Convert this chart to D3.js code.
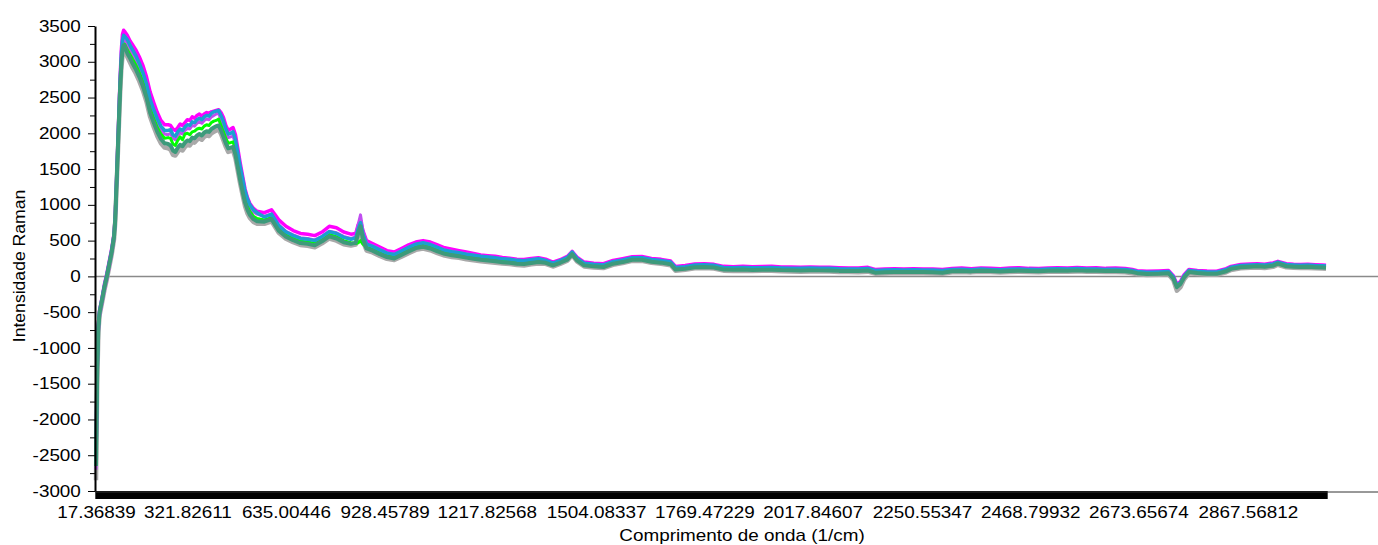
<!DOCTYPE html>
<html>
<head>
<meta charset="utf-8">
<script src="https://cdn.jsdelivr.net/npm/d3@7"></script>
<style>
  body { margin: 0; background: #fff; }
  svg { display: block; }
</style>
</head>
<body>
<div id="chart"></div>
<script>
// spectrum has 1024 detector points; x axis is categorical (point index)
const POINT_COUNT = 1024;

const tickIdx = [0, 76, 158, 240, 325, 416, 506, 596, 687, 777, 867, 958];
const tickLabels = ["17.36839", "321.82611", "635.00446", "928.45789", "1217.82568", "1504.08337",
    "1769.47229", "2017.84607", "2250.55347", "2468.79932", "2673.65674", "2867.56812"];

const yMajor = [-3000, -2500, -2000, -1500, -1000, -500, 0, 500, 1000, 1500, 2000, 2500, 3000, 3500];
const yMinor = [-2750, -2250, -1750, -1250, -750, -250, 250, 750, 1250, 1750, 2250, 2750, 3250];

const sampleIdx = [
    0,1,2,3,5,7,9,11,13,15,16,17,18,19,20,21,22,23,24,26,28,30,33,36,39,42,45,48,51,54,57,60,
    62,64,66,68,70,72,74,76,78,80,82,84,86,88,90,92,94,96,98,100,102,104,106,108,110,112,114,116,118,120,122,124,126,128,131,134,
    140,146,152,158,164,170,176,182,188,194,200,206,212,216,218,220,222,225,230,236,242,248,254,260,266,272,278,284,290,296,302,308,314,320,326,332,338,344,350,356,362,368,
    374,380,386,392,396,400,406,414,422,430,438,446,454,462,470,478,482,490,498,506,514,522,530,538,546,554,562,570,578,586,594,602,610,618,626,634,642,648,656,664,672,680,688,696,704,
    712,720,728,736,744,752,760,768,776,784,792,800,808,816,824,832,840,848,856,862,866,874,884,892,896,899,902,905,909,916,924,932,940,944,952,960,966,972,979,983,990,996,1002,1008,1014,1020,1023
];

const grayVals = [
    -2850,-1500,-760,-540,-370,-190,-40,130,300,520, 760,1200,1640,2090,2540,2880,3080,3170,3160,
    3070,3000,2930,2840,2730,2600,2440,2230,2090,1960,1860,1800,1790,
    1770,1700,1690,1740,1780,1760,1810,1840,1830,1880,1870,1910,1930,1910,1950,1970,1960,2000,2020,2040,2050,
    1990,1900,1810,1740,1750,1760,1650,1470,1290,1130,980,880,815,760,735,
    735,770,610,525,478,440,428,408,462,530,500,450,430,445,560,650,490,362,335,285,
    245,228,275,325,370,390,365,325,292,272,260,240,225,212,202,192,180,172,158,152,168,180,
    175,138,174,220,296,208,138,124,116,162,185,216,218,190,176,155,80,92,112,118,
    110,80,76,80,74,78,78,72,70,66,70,68,68,62,60,58,66,38,42,46,44,48,44,42,36,
    58,62,56,64,60,56,62,66,60,58,64,68,66,70,64,66,60,62,58,
    44,30,20,24,30,-50,-200,-150,-40,44,34,24,22,58,90,112,120,125,118,134,162,128,120,116,118,114,110,108
];

const magentaVals = [
    -2600,-1200,-660,-470,-300,-110,40,210,380,600, 840,1300,1780,2260,2750,3150,3380,3440,3420,
    3370,3300,3250,3170,3070,2950,2790,2580,2430,2290,2180,2120,2120,
    2110,2060,2040,2080,2130,2110,2150,2190,2180,2230,2210,2250,2270,2240,2270,2290,2280,2300,2310,2320,2330,
    2290,2220,2110,2040,2060,2080,1980,1780,1580,1400,1220,1100,1020,950,910,
    890,930,790,700,640,600,590,570,620,700,680,620,590,600,720,780,640,500,460,410,
    360,340,390,440,480,500,480,440,400,380,360,340,320,300,290,280,265,255,240,235,250,260,
    240,200,232,280,350,270,200,185,178,222,248,275,278,250,238,214,140,152,172,176,
    168,140,136,140,134,138,140,132,130,126,130,128,126,122,118,118,126,96,104,106,104,108,104,102,96,
    110,118,108,116,114,108,118,120,112,110,118,122,118,124,116,120,112,116,110,
    96,80,72,76,82,10,-110,-70,25,96,84,74,72,108,140,165,172,176,170,188,210,178,170,166,170,164,160,156
];

const purpleVals = [
    -2700,-1450,-800,-560,-380,-200,-50,120,300,520, 780,1220,1700,2180,2650,3020,3240,3300,3290,
    3250,3190,3120,3030,2920,2790,2630,2420,2280,2150,2050,1990,1980,
    2000,1930,1910,1970,2010,1990,2040,2070,2060,2110,2100,2140,2160,2140,2180,2200,2190,2230,2250,2270,2280,
    2190,2110,2010,1940,1950,1960,1860,1670,1480,1310,1150,1040,970,900,870,
    840,870,720,630,580,540,530,510,560,630,610,560,530,550,720,860,640,460,430,380,
    330,310,360,410,450,470,450,410,370,350,335,315,300,285,275,265,250,242,228,222,238,250,
    220,180,215,262,345,250,180,165,158,200,226,256,258,230,218,194,120,132,152,156,
    150,118,118,120,114,118,118,112,110,106,110,108,108,102,100,98,106,78,84,86,84,88,84,82,78,
    92,96,90,100,94,90,98,100,94,92,100,104,100,106,98,102,94,98,92,
    80,64,55,58,64,-8,-135,-90,2,78,66,56,54,90,124,148,154,158,152,168,194,160,154,150,152,148,144,140
];

const cyanVals = [
    -2620,-1250,-680,-480,-310,-130,20,190,360,580, 820,1280,1750,2220,2700,3080,3300,3370,3350,
    3310,3240,3180,3090,2980,2850,2690,2480,2330,2200,2100,2040,2040,
    2050,1980,1960,2020,2060,2040,2090,2120,2110,2160,2150,2190,2210,2190,2230,2250,2240,2280,2300,2310,2320,
    2250,2170,2060,1990,2000,2020,1910,1720,1530,1360,1190,1080,1000,930,890,
    830,870,710,620,570,530,520,500,555,625,600,545,520,535,660,750,590,450,420,370,
    325,305,355,405,450,470,445,405,365,345,330,310,295,280,270,260,245,238,224,218,234,246,
    222,185,220,265,340,255,185,170,160,205,230,262,262,235,222,200,125,136,158,162,
    155,124,122,124,120,122,124,118,114,112,116,114,112,106,104,104,112,82,88,92,90,92,90,88,82,
    96,100,94,104,98,94,100,104,98,96,104,106,104,110,102,104,98,100,96,
    84,68,58,62,68,-4,-128,-85,8,84,72,62,60,96,128,152,160,164,158,174,200,166,160,154,158,152,150,146
];

const greenVals = [
    -2500,-1350,-720,-510,-340,-160,-10,160,330,550, 800,1240,1690,2150,2610,2970,3170,3250,3240,
    3170,3110,3050,2960,2850,2720,2560,2350,2210,2080,1990,1930,1940,
    1930,1850,1830,1900,1950,1910,1990,2000,1980,2020,2030,2060,2070,2060,2100,2120,2110,2150,2170,2180,2200,
    2110,2020,1930,1860,1870,1880,1770,1590,1400,1240,1090,980,910,840,810,
    790,820,660,580,530,490,480,460,510,585,555,500,470,460,470,500,450,410,380,330,
    290,270,320,370,415,435,410,370,335,315,300,280,262,250,238,228,215,205,192,188,202,215,
    200,165,198,246,322,234,164,150,142,186,212,240,240,214,200,178,104,116,138,140,
    134,104,100,104,98,102,102,96,94,90,96,92,92,86,84,82,92,60,66,72,68,72,68,66,60,
    82,88,80,88,84,80,86,90,84,82,88,92,90,94,88,90,84,86,82,
    68,52,44,48,54,-20,-142,-98,-6,70,58,48,46,82,114,138,145,150,144,160,186,152,145,140,143,138,135,132
];

const tealVals = [
    -2650,-1300,-700,-500,-330,-150,0,170,340,560, 800,1250,1700,2150,2600,2950,3150,3230,3220,
    3120,3060,2990,2900,2790,2660,2500,2290,2150,2020,1920,1860,1850,
    1830,1760,1740,1800,1840,1820,1870,1900,1890,1940,1930,1970,1990,1970,2010,2030,2020,2060,2080,2100,2110,
    2040,1950,1860,1790,1800,1810,1700,1520,1340,1180,1030,930,860,800,770,
    765,800,640,555,505,466,455,434,490,560,530,478,455,470,600,700,520,390,360,310,
    270,250,300,350,395,415,390,350,315,296,282,262,246,232,222,212,199,192,178,172,188,200,
    190,154,190,235,310,224,154,140,131,177,200,232,232,205,192,170,95,107,128,132,
    125,95,92,95,90,93,94,88,85,82,86,84,83,77,75,74,82,52,58,62,60,63,60,58,52,
    72,76,70,78,74,70,76,80,74,72,78,82,80,84,78,80,74,76,72,
    60,45,35,38,45,-30,-150,-105,-15,60,48,38,36,72,105,128,135,140,134,150,178,142,135,130,133,128,125,122
];

// drawn in this order, teal ends up on top
const series = [
    { name: "gray", color: "#a9a9a9", width: 4.5, values: grayVals },
    { name: "magenta", color: "#ff00ff", width: 3.5, values: magentaVals },
    { name: "purple", color: "#c04ef0", width: 3, values: purpleVals },
    { name: "green", color: "#00ff00", width: 3, values: greenVals },
    { name: "cyan", color: "#1c9ed2", width: 3.5, values: cyanVals },
    { name: "teal", color: "#3d9a7b", width: 4, values: tealVals }
];

const W = 1378, H = 545;
const FONT = '"Liberation Sans", Arial, sans-serif';
const STRETCH = 1.18; // the reference text is drawn a bit wide

const svg = d3.select("#chart").append("svg")
    .attr("width", W)
    .attr("height", H);

const x = d3.scaleLinear().domain([0, POINT_COUNT - 1]).range([96, 1326]);
const y = d3.scaleLinear().domain([-3000, 3500]).range([491, 26]);

// zero line
svg.append("line")
    .attr("x1", 96).attr("x2", W)
    .attr("y1", y(0)).attr("y2", y(0))
    .attr("stroke", "#8a8a8a")
    .attr("stroke-width", 1.5);

const line = d3.line()
    .x((d, i) => x(sampleIdx[i]))
    .y(d => y(d))
    .defined((d, i) => d != null && sampleIdx[i] != null);

svg.append("g")
    .selectAll("path")
    .data(series)
    .join("path")
    .attr("fill", "none")
    .attr("stroke", d => d.color)
    .attr("stroke-width", d => d.width)
    .attr("stroke-linejoin", "round")
    .attr("d", d => line(d.values));

// bottom: one tick per data point makes the solid black band
const gx = svg.append("g")
    .attr("transform", `translate(0,${y(-3000)})`)
    .call(d3.axisBottom(x)
        .tickValues(d3.range(POINT_COUNT))
        .tickSize(8)
        .tickSizeOuter(0)
        .tickFormat(""));
gx.select(".domain").remove();
gx.selectAll(".tick line")
    .attr("stroke", "#000")
    .attr("stroke-width", 2.4);

svg.append("line")
    .attr("x1", 95).attr("x2", W)
    .attr("y1", y(-3000) + 1).attr("y2", y(-3000) + 1)
    .attr("stroke", "#333")
    .attr("stroke-width", 1);

const gl = svg.append("g")
    .attr("transform", `translate(0,${y(-3000)})`)
    .call(d3.axisBottom(x)
        .tickValues(tickIdx)
        .tickSize(0)
        .tickFormat((d, i) => tickLabels[i]));
gl.select(".domain").remove();
gl.attr("font-family", FONT).attr("font-size", 16);
gl.selectAll("text")
    .attr("y", 27)
    .attr("dy", null)
    .attr("fill", "#000")
    .attr("transform", `scale(${STRETCH},1)`);

// left axis
const gyMinor = svg.append("g")
    .attr("transform", "translate(95,0)")
    .call(d3.axisLeft(y).tickValues(yMinor).tickSize(5).tickFormat(""));
gyMinor.select(".domain").remove();

const gy = svg.append("g")
    .attr("transform", "translate(95,0)")
    .call(d3.axisLeft(y).tickValues(yMajor).tickSize(7).tickSizeOuter(0).tickFormat(d => String(d)));
gy.attr("font-family", FONT).attr("font-size", 16);
gy.select(".domain").attr("stroke", "#000").attr("stroke-width", 2);
gy.selectAll(".tick line").attr("stroke", "#000");
gy.selectAll("text")
    .attr("x", -12)
    .attr("fill", "#000")
    .attr("transform", `scale(${STRETCH},1)`);

// titles
svg.append("text")
    .attr("transform", `translate(742,541) scale(${STRETCH},1)`)
    .attr("text-anchor", "middle")
    .attr("font-family", FONT)
    .attr("font-size", 16)
    .text("Comprimento de onda (1/cm)");

svg.append("text")
    .attr("transform", "translate(25,266) rotate(-90) scale(1.1,1)")
    .attr("text-anchor", "middle")
    .attr("font-family", FONT)
    .attr("font-size", 16)
    .text("Intensidade Raman");
</script>
</body>
</html>
